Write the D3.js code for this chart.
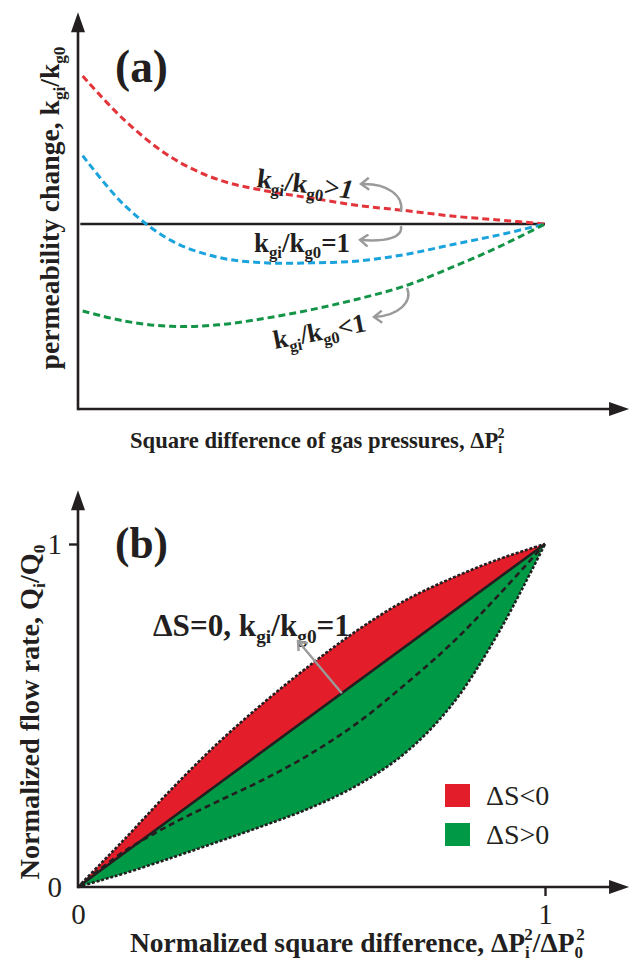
<!DOCTYPE html>
<html>
<head>
<meta charset="utf-8">
<script src="https://cdn.jsdelivr.net/npm/d3@7"></script>
<style>
  body { margin: 0; background: #fff; }
  svg { display: block; }
</style>
</head>
<body>
<svg id="chart" width="633" height="962"></svg>
<script>
// ---- panel (a): permeability change vs square difference of gas pressures ----
const aX = [0.01, 0.1, 0.2, 0.3, 0.4, 0.5, 0.6, 0.7, 0.8, 0.9, 1.0];
const kRed = [1.80, 1.56, 1.36, 1.24, 1.18, 1.14, 1.10, 1.073, 1.043, 1.022, 1.0];   // kgi/kg0 > 1
const kBlue = [1.37, 1.10, 0.91, 0.82, 0.79, 0.79, 0.80, 0.835, 0.888, 0.94, 1.0];  // dips below 1
const kGreen = [0.53, 0.475, 0.447, 0.455, 0.49, 0.537, 0.595, 0.665, 0.765, 0.875, 1.0]; // kgi/kg0 < 1
const kRefX = [0.005, 1];
const kRef = [1, 1];      // kgi/kg0 = 1 line

// ---- panel (b): normalized flow rate vs normalized square difference ----
const bX = [0, 0.05, 0.1, 0.2, 0.3, 0.4, 0.5, 0.6, 0.7, 0.8, 0.9, 1];
const qUpper = [0, 0.07, 0.14, 0.285, 0.42, 0.54, 0.65, 0.75, 0.835, 0.9, 0.955, 1];
const qMiddle = [0, 0.055, 0.105, 0.183, 0.25, 0.315, 0.39, 0.48, 0.59, 0.71, 0.85, 1];
const qLower = [0, 0.02, 0.04, 0.085, 0.132, 0.18, 0.232, 0.298, 0.39, 0.53, 0.74, 1];
const bTicks = [0, 1];
const legendItems = ["ΔS<0", "ΔS>0"];

const FONT = "'Liberation Serif'";
const svg = d3.select("#chart").style("font-family", FONT);
const ink = "#231f20";
const gray = "#9a9a9a";
const redFill = "#e31e2a", greenFill = "#009a46";

svg.append("defs").append("marker")
  .attr("id", "chev")
  .attr("viewBox", "-10 -7 12 14")
  .attr("markerWidth", 12).attr("markerHeight", 14)
  .attr("markerUnits", "userSpaceOnUse")
  .attr("orient", "auto")
  .append("path")
  .attr("d", "M-8,-6 L0,0 L-8,6")
  .attr("fill", "none").attr("stroke", gray).attr("stroke-width", 2.4);

// text made of parts, some sub/superscript
function rich(text, parts, size) {
  let cur = 0;
  parts.forEach(p => {
    let off = p.sub ? size * 0.22 : p.sup ? -size * 0.42 : 0;
    text.append("tspan")
      .attr("dy", off - cur)
      .attr("dx", p.dx ? p.dx * size / 20 : 0)
      .style("font-size", (p.sub || p.sup ? size * 0.62 : size) + "px")
      .style("font-style", p.it ? "italic" : null)
      .text(p.t);
    cur = off;
  });
}
// size the text so that it spans `width` px like the reference
function fitRich(text, parts, width) {
  text.style("font-family", FONT).attr("fill", ink);
  rich(text, parts, 20);
  const w = text.node().getBBox().width;
  text.selectAll("tspan").remove();
  rich(text, parts, 20 * width / w);
  return text;
}

function arrowAxes(g, x, y, x0, y0, x1, y1) {
  const ox = x(x0), oy = y(y0), ex = x(x1), ey = y(y1);
  g.append("line").attr("x1", ox).attr("y1", oy).attr("x2", ex - 14).attr("y2", oy)
    .attr("stroke", ink).attr("stroke-width", 2.6);
  g.append("line").attr("x1", ox).attr("y1", oy + 1.3).attr("x2", ox).attr("y2", ey + 14)
    .attr("stroke", ink).attr("stroke-width", 2.6);
  g.append("path").attr("d", `M${ex},${oy} L${ex - 20},${oy - 7} L${ex - 20},${oy + 7} Z`).attr("fill", ink);
  g.append("path").attr("d", `M${ox},${ey} L${ox - 7},${ey + 20} L${ox + 7},${ey + 20} Z`).attr("fill", ink);
}

const kParts = tail => [{t: "k"}, {t: "gi", sub: true}, {t: "/k"}, {t: "g0", sub: true}].concat(tail);

// ================= panel (a) =================
const xA = d3.scaleLinear().domain([0, 1]).range([78, 545]);
const yA = d3.scaleLinear().domain([0, 1]).range([409, 224]);
const gA = svg.append("g");

const lineA = d3.line().curve(d3.curveCatmullRom)
  .x(d => xA(d[0])).y(d => yA(d[1]));

gA.append("path").datum(d3.zip(kRefX, kRef)).attr("d", lineA)
  .attr("fill", "none").attr("stroke", ink).attr("stroke-width", 2.6);

[[kRed, "#e2343a"], [kBlue, "#1aa3dc"], [kGreen, "#149447"]].forEach(([vals, col]) => {
  gA.append("path").datum(d3.zip(aX, vals)).attr("d", lineA)
    .attr("fill", "none").attr("stroke", col).attr("stroke-width", 3)
    .attr("stroke-dasharray", "7,4");
});

arrowAxes(gA, xA, yA, 0, 0, 1.18, 2.145);

fitRich(gA.append("text").attr("x", 115).attr("y", 82).style("font-weight", "bold"), [{t: "(a)"}], 53);

fitRich(gA.append("text").attr("transform", "translate(59,208) rotate(-90)")
  .attr("text-anchor", "middle").style("font-weight", "bold"),
  [{t: "permeability change, "}].concat(kParts([])), 323);

fitRich(gA.append("text").attr("x", 130).attr("y", 448).style("font-weight", "bold"),
  [{t: "Square difference of gas pressures, "}, {t: "ΔP"}, {t: "i", sub: true}, {t: "2", sup: true, dx: -4}], 375);

fitRich(gA.append("text").attr("transform", "translate(256,187) rotate(7)").style("font-weight", "bold"),
  kParts([{t: ">"}, {t: "1", it: true}]), 97);
fitRich(gA.append("text").attr("x", 254).attr("y", 252).style("font-weight", "bold"),
  kParts([{t: "=1"}]), 96);
fitRich(gA.append("text").attr("transform", "translate(275,349) rotate(-11)").style("font-weight", "bold"),
  kParts([{t: "<1"}]), 94);

const ann = [
  "M401,212 C404,196 388,183 361,184",
  "M401,226 C403,237 388,242 360,240",
  "M407,288 C413,302 398,316 374,317"
];
ann.forEach(d => gA.append("path").attr("d", d).attr("fill", "none")
  .attr("stroke", gray).attr("stroke-width", 2.4).attr("marker-end", "url(#chev)"));

// ================= panel (b) =================
const xB = d3.scaleLinear().domain([0, 1]).range([78, 545]);
const yB = d3.scaleLinear().domain([0, 1]).range([887, 544]);
const gB = svg.append("g");

const upper = d3.zip(bX, qUpper);
const lower = d3.zip(bX, qLower);
const band = d3.area().curve(d3.curveCatmullRom)
  .x(d => xB(d[0])).y0(d => yB(d[0])).y1(d => yB(d[1]));

gB.append("path").datum(upper).attr("d", band).attr("fill", redFill);
gB.append("path").datum(lower).attr("d", band).attr("fill", greenFill);

const lineB = d3.line().curve(d3.curveCatmullRom).x(d => xB(d[0])).y(d => yB(d[1]));
[upper, lower].forEach(pts => gB.append("path").datum(pts).attr("d", lineB)
  .attr("fill", "none").attr("stroke", ink).attr("stroke-width", 2.6).attr("stroke-dasharray", "3,1.8"));
gB.append("path").datum(d3.zip(bX, qMiddle)).attr("d", lineB)
  .attr("fill", "none").attr("stroke", ink).attr("stroke-width", 2.6).attr("stroke-dasharray", "6,4");
gB.append("path").datum([[0, 0], [1, 1]]).attr("d", lineB)
  .attr("fill", "none").attr("stroke", ink).attr("stroke-width", 2.6);

arrowAxes(gB, xB, yB, 0, 0, 1.18, 1.157);

// ticks
const axY = gB.append("g").attr("transform", "translate(78,0)")
  .call(d3.axisLeft(yB).tickValues(bTicks).tickSize(9).tickPadding(7).tickFormat(d3.format("d")));
const axX = gB.append("g").attr("transform", "translate(0,887)")
  .call(d3.axisBottom(xB).tickValues(bTicks).tickSize(9).tickPadding(7).tickFormat(d3.format("d")));
[axY, axX].forEach(a => {
  a.attr("font-family", null).attr("font-size", null);
  a.select(".domain").remove();
  a.selectAll("line").attr("stroke", ink).attr("stroke-width", 2.4);
  a.selectAll("text").style("font-size", "29px").attr("fill", ink).style("font-family", FONT);
});
axX.selectAll(".tick").filter(d => d === 0).select("line").remove();
axY.selectAll(".tick").filter(d => d === 0).select("line").remove();

fitRich(gB.append("text").attr("x", 115).attr("y", 558).style("font-weight", "bold"), [{t: "(b)"}], 53);

fitRich(gB.append("text").attr("transform", "translate(39,712) rotate(-90)")
  .attr("text-anchor", "middle").style("font-weight", "bold"),
  [{t: "Normalized flow rate, Q"}, {t: "i", sub: true}, {t: "/Q"}, {t: "0", sub: true}], 335);

fitRich(gB.append("text").attr("x", 130).attr("y", 952).style("font-weight", "bold"),
  [{t: "Normalized square difference, ΔP"}, {t: "i", sub: true}, {t: "2", sup: true, dx: -4},
   {t: "/ΔP"}, {t: "0", sub: true}, {t: "2", sup: true, dx: -5}], 455);

fitRich(gB.append("text").attr("x", 153).attr("y", 636).style("font-weight", "bold"),
  [{t: "ΔS=0, k"}, {t: "gi", sub: true}, {t: "/k"}, {t: "g0", sub: true}, {t: "=1"}], 197);

gB.append("line").attr("x1", xB(0.565)).attr("y1", yB(0.565)).attr("x2", 298).attr("y2", 641)
  .attr("stroke", gray).attr("stroke-width", 2.4).attr("marker-end", "url(#chev)");

// legend
const leg = gB.append("g").selectAll("g").data(legendItems).join("g")
  .attr("transform", (d, i) => `translate(445,${784 + i * 39})`);
leg.append("rect").attr("width", 25).attr("height", 23)
  .attr("fill", (d, i) => i === 0 ? redFill : greenFill);
leg.append("text").attr("x", 41).attr("y", 21).style("font-size", "28px")
  .style("font-family", FONT).attr("fill", ink).text(d => d);
</script>
</body>
</html>
